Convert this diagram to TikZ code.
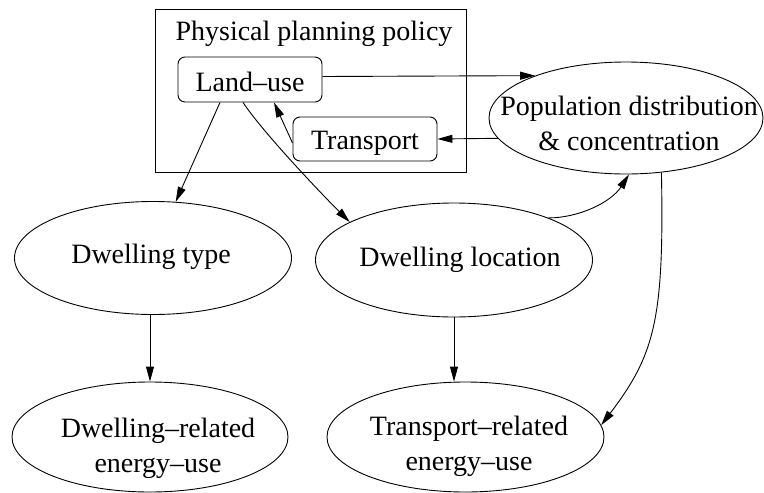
\documentclass[tikz,border=0pt]{standalone}
\usepackage{fontspec}
\setmainfont{Liberation Serif}
\usetikzlibrary{shapes.geometric,arrows.meta}
\begin{document}
\begin{tikzpicture}[x=1pt,y=-1pt,
  every node/.style={font=\fontsize{28}{35}\selectfont, inner sep=0pt},
  ell/.style={draw, ellipse, line width=0.9pt},
  rbox/.style={draw, rounded corners=7pt, line width=0.9pt, minimum width=144pt},
  txt/.style={align=center},
  arr/.style={line width=0.9pt, -{Triangle[length=15pt,width=8pt]}}]
\useasboundingbox (0,0) rectangle (764,493);
% physical planning policy frame
\node[draw, line width=0.9pt, minimum width=311pt, minimum height=163pt] (ppp) at (310.5,90.5) {};
\node (title) at (314,33.5) {Physical planning policy};
\node[rbox, minimum height=45pt, text height=23pt, text depth=0pt] (lu) at (250,79.5) {Land--use};
\node[rbox, minimum height=44pt, text height=20pt, text depth=0pt] (tr) at (365,139) {Transport};
% ellipses
\node[ell, minimum width=274pt, minimum height=112pt] (pop) at (626,118) {};
\node[txt] (poptxt) at (629,123) {Population distribution\\\& concentration};
\node[ell, minimum width=277pt, minimum height=113pt] (dtype) at (153,258) {};
\node (dtypetxt) at (151,256.5) {Dwelling type};
\node[ell, minimum width=277pt, minimum height=114pt] (dloc) at (454,260) {};
\node (dloctxt) at (460,260) {Dwelling location};
\node[ell, minimum width=276pt, minimum height=110pt] (drel) at (150,437) {};
\node[txt] (dreltxt) at (158,448) {Dwelling--related\\energy--use};
\node[ell, minimum width=277pt, minimum height=110pt] (trel) at (465.5,437) {};
\node[txt] (treltxt) at (469,446) {Transport--related\\energy--use};
% connectors
\draw[arr] ([yshift=3pt]lu.east) -- (pop.155);
\draw[arr] (pop.189) -- (tr.east);
\draw[arr] ([yshift=-4pt]tr.west) -- ([xshift=24pt]lu.south);
\draw[arr] ([xshift=-30pt]lu.south) -- (dtype.68);
\draw[arr] ([xshift=-7pt]lu.south) .. controls +(20,30) and +(-30,-30) .. (dloc.160);
\draw[arr] (dloc.24) .. controls +(30,0) and +(-18,28) .. ([xshift=3pt]pop.south);
\draw[arr] (pop.303) .. controls +(3,148) and +(53,-70) .. (trel.5);
\draw[arr] (dtype.south -| drel.north) -- (drel.north);
\draw[arr] (dloc.south) -- (trel.north -| dloc.south);
\end{tikzpicture}
\end{document}
